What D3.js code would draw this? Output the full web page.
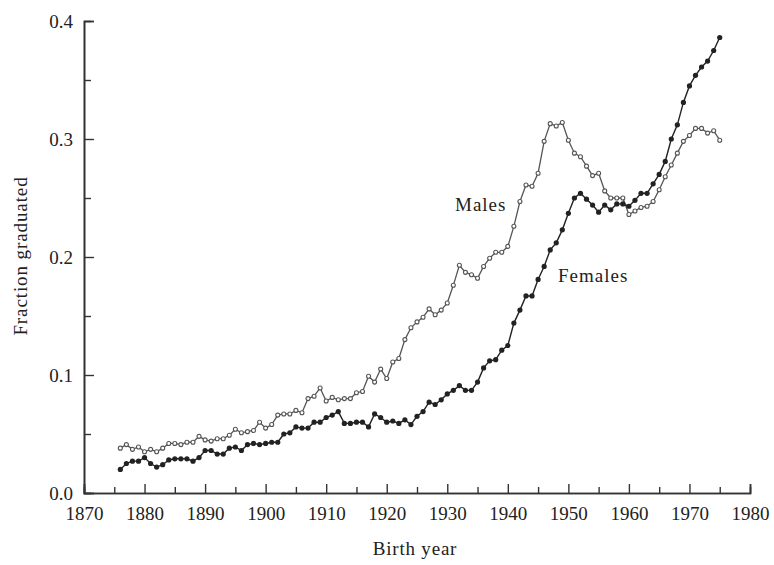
<!DOCTYPE html>
<html>
<head>
<meta charset="utf-8">
<script src="https://cdn.jsdelivr.net/npm/d3@7"></script>
<style>
  body { margin: 0; background: #fff; }
  svg text { font-family: "Liberation Serif", "DejaVu Serif", serif; fill: #222; }
</style>
</head>
<body>
<svg id="chart"></svg>
<script>
// birth years, one point per year
const years = d3.range(1876, 1976);

const males = [
  0.038, 0.041, 0.037, 0.039, 0.035, 0.037, 0.035, 0.038, 0.042, 0.042,
  0.041, 0.043, 0.043, 0.048, 0.045, 0.044, 0.046, 0.046, 0.049, 0.054,
  0.051, 0.052, 0.053, 0.060, 0.055, 0.058, 0.066, 0.067, 0.067, 0.070,
  0.068, 0.080, 0.082, 0.089, 0.078, 0.081, 0.079, 0.080, 0.080, 0.085,
  0.086, 0.099, 0.094, 0.105, 0.097, 0.111, 0.114, 0.130, 0.140, 0.145,
  0.149, 0.156, 0.151, 0.155, 0.161, 0.176, 0.193, 0.187, 0.185, 0.182,
  0.192, 0.199, 0.204, 0.204, 0.209, 0.226, 0.247, 0.261, 0.260, 0.271,
  0.298, 0.313, 0.311, 0.314, 0.299, 0.288, 0.285, 0.277, 0.269, 0.271,
  0.256, 0.250, 0.250, 0.250, 0.236, 0.239, 0.242, 0.243, 0.247, 0.257,
  0.268, 0.278, 0.288, 0.298, 0.303, 0.309, 0.309, 0.305, 0.307, 0.299
];

const females = [
  0.020, 0.025, 0.027, 0.027, 0.030, 0.025, 0.022, 0.024, 0.028, 0.029,
  0.029, 0.029, 0.027, 0.030, 0.036, 0.036, 0.033, 0.033, 0.038, 0.039,
  0.036, 0.041, 0.042, 0.041, 0.042, 0.043, 0.043, 0.050, 0.051, 0.056,
  0.055, 0.055, 0.060, 0.060, 0.064, 0.066, 0.069, 0.059, 0.059, 0.060,
  0.060, 0.056, 0.067, 0.064, 0.060, 0.061, 0.059, 0.062, 0.058, 0.065,
  0.069, 0.077, 0.075, 0.079, 0.084, 0.087, 0.091, 0.087, 0.087, 0.094,
  0.106, 0.112, 0.113, 0.121, 0.125, 0.144, 0.155, 0.167, 0.167, 0.181,
  0.192, 0.206, 0.212, 0.223, 0.237, 0.250, 0.254, 0.249, 0.244, 0.238,
  0.244, 0.240, 0.245, 0.245, 0.243, 0.248, 0.254, 0.254, 0.262, 0.270,
  0.281, 0.300, 0.312, 0.331, 0.345, 0.354, 0.361, 0.366, 0.375, 0.386
];

const xTicks = [1870, 1880, 1890, 1900, 1910, 1920, 1930, 1940, 1950, 1960, 1970, 1980];
const yTicks = [0.0, 0.1, 0.2, 0.3, 0.4];

const w = 774;
const h = 565;

const svg = d3.select('#chart')
    .attr('width', w)
    .attr('height', h);

const x = d3.scaleLinear().domain([1870, 1980]).range([84, 750]);
const y = d3.scaleLinear().domain([0, 0.4]).range([493, 21]);

// axes: ticks point inward, minor ticks at the half steps
const xAxis = d3.axisBottom(x).tickValues(xTicks).tickSize(-9).tickPadding(14).tickFormat(d3.format('d'));
const xMinor = d3.axisBottom(x).tickValues(d3.range(1875, 1980, 10)).tickSize(-6).tickFormat('');
const yAxis = d3.axisLeft(y).tickValues(yTicks).tickSize(-10).tickPadding(11).tickFormat(d3.format('.1f'));
const yMinor = d3.axisLeft(y).tickValues([0.05, 0.15, 0.25, 0.35]).tickSize(-7).tickFormat('');

svg.append('g').attr('transform', `translate(0,${y(0)})`).call(xAxis);
svg.append('g').attr('transform', `translate(0,${y(0)})`).call(xMinor);
svg.append('g').attr('transform', `translate(${x(1870)},0)`).call(yAxis);
svg.append('g').attr('transform', `translate(${x(1870)},0)`).call(yMinor);

svg.selectAll('.domain').attr('stroke', '#333').attr('stroke-width', 1.6);
svg.selectAll('.tick line').attr('stroke', '#333').attr('stroke-width', 1.4);
svg.selectAll('.tick text').style('font-size', '19px').attr('fill', '#222');

svg.append('text')
    .attr('x', 415).attr('y', 555)
    .attr('text-anchor', 'middle')
    .style('font-size', '19px')
    .style('letter-spacing', '0.8px')
    .text('Birth year');

svg.append('text')
    .attr('transform', 'translate(27,256) rotate(-90)')
    .attr('text-anchor', 'middle')
    .style('font-size', '19px')
    .style('letter-spacing', '0.9px')
    .text('Fraction graduated');

const line = d3.line().x((d, i) => x(years[i])).y(d => y(d));

// males: grey line, open markers
svg.append('path')
    .datum(males)
    .attr('d', line)
    .attr('fill', 'none')
    .attr('stroke', '#555')
    .attr('stroke-width', 1.3);

svg.selectAll('.m')
    .data(males)
    .join('circle')
    .attr('class', 'm')
    .attr('cx', (d, i) => x(years[i]))
    .attr('cy', d => y(d))
    .attr('r', 2)
    .attr('fill', '#fff')
    .attr('stroke', '#555')
    .attr('stroke-width', 1.1);

// females: black line, filled markers
svg.append('path')
    .datum(females)
    .attr('d', line)
    .attr('fill', 'none')
    .attr('stroke', '#222')
    .attr('stroke-width', 1.4);

svg.selectAll('.f')
    .data(females)
    .join('circle')
    .attr('class', 'f')
    .attr('cx', (d, i) => x(years[i]))
    .attr('cy', d => y(d))
    .attr('r', 2.6)
    .attr('fill', '#222');

svg.append('text')
    .attr('x', 455).attr('y', 211)
    .style('font-size', '19px')
    .style('letter-spacing', '1px')
    .text('Males');

svg.append('text')
    .attr('x', 558).attr('y', 282)
    .style('font-size', '19px')
    .style('letter-spacing', '1px')
    .text('Females');
</script>
</body>
</html>
